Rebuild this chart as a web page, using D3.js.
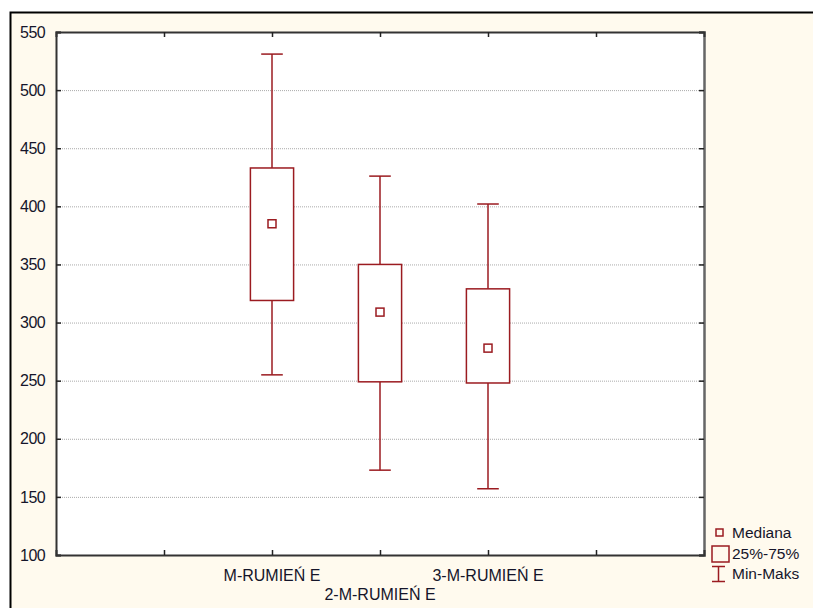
<!DOCTYPE html>
<html>
<head>
<meta charset="utf-8">
<script src="https://cdn.jsdelivr.net/npm/d3@7"></script>
<style>
  body { margin: 0; background: #fff; }
  text { font-family: "Liberation Sans", Arial, sans-serif; }
</style>
</head>
<body>
<svg id="chart" width="813" height="608"></svg>
<script>
// box data
const categories = ["M-RUMIEŃ E", "2-M-RUMIEŃ E", "3-M-RUMIEŃ E"];
const mins = [255, 173, 157];
const q1s = [319, 249, 248];
const medians = [385, 309, 278];
const q3s = [433, 350, 329];
const maxs = [531, 426, 402];
const yTicks = [100, 150, 200, 250, 300, 350, 400, 450, 500, 550];

const red = "#9b1b20";
const ink = "#15152a";
const svg = d3.select("#chart");

// cream panel with black top/left border
svg.append("rect").attr("x", 10).attr("y", 12).attr("width", 803).attr("height", 596)
    .attr("fill", "#fffaee");
svg.append("path").attr("d", "M10.5,608V12.5H813").attr("fill", "none")
    .attr("stroke", "#000").attr("stroke-width", 2);

const pLeft = 56, pTop = 32, pRight = 704, pBottom = 555;

const x = d3.scaleLinear().domain([0, 6]).range([pLeft, pRight]);
const y = d3.scaleLinear().domain([100, 550]).range([pBottom, pTop]);

svg.append("rect").attr("x", pLeft).attr("y", pTop).attr("width", pRight - pLeft).attr("height", pBottom - pTop)
    .attr("fill", "#fff");

// grid lines
svg.append("g").selectAll("line").data(yTicks.slice(1, -1)).enter().append("line")
    .attr("x1", pLeft).attr("x2", pRight)
    .attr("y1", d => y(d) + 0.5).attr("y2", d => y(d) + 0.5)
    .attr("stroke", "#aaa").attr("stroke-dasharray", "1,1");

// axes
const yAxisL = d3.axisLeft(y).tickValues(yTicks).tickSize(-5).tickPadding(11);
const gl = svg.append("g").attr("transform", `translate(${pLeft},0)`).call(yAxisL);
const yAxisR = d3.axisRight(y).tickValues(yTicks).tickSize(-5).tickFormat("");
const gr = svg.append("g").attr("transform", `translate(${pRight},0)`).call(yAxisR);
const xAxisB = d3.axisBottom(x).tickValues([1, 2, 3, 4, 5]).tickSize(-5).tickFormat("");
const gb = svg.append("g").attr("transform", `translate(0,${pBottom})`).call(xAxisB);
const xAxisT = d3.axisTop(x).tickValues([1, 2, 3, 4, 5]).tickSize(-5).tickFormat("");
const gt = svg.append("g").attr("transform", `translate(0,${pTop})`).call(xAxisT);

[gl, gr, gb, gt].forEach(g => {
  g.select(".domain").attr("stroke", "#333").attr("stroke-width", 2);
  g.selectAll(".tick line").attr("stroke", "#222").attr("stroke-width", 1.5);
});
gr.select(".domain").attr("stroke", "#666").attr("stroke-width", 2.5);
gl.selectAll(".tick text").attr("font-size", 16).attr("letter-spacing", -0.6).attr("fill", ink)
    .attr("font-family", "Liberation Sans, Arial, sans-serif");

// category labels, staggered
svg.append("g").selectAll("text").data(categories).enter().append("text")
    .attr("x", (d, i) => x(i + 2))
    .attr("y", (d, i) => i % 2 ? 600 : 581)
    .attr("text-anchor", "middle").attr("font-size", 16).attr("fill", ink)
    .text(d => d);

// boxes
const boxes = svg.append("g").selectAll("g").data(categories).enter().append("g");
const bw = 0.2, cw = 0.1;
boxes.append("line")
    .attr("x1", (d, i) => x(i + 2)).attr("x2", (d, i) => x(i + 2))
    .attr("y1", (d, i) => y(maxs[i])).attr("y2", (d, i) => y(q3s[i]))
    .attr("stroke", red).attr("stroke-width", 1.5);
boxes.append("line")
    .attr("x1", (d, i) => x(i + 2)).attr("x2", (d, i) => x(i + 2))
    .attr("y1", (d, i) => y(q1s[i])).attr("y2", (d, i) => y(mins[i]))
    .attr("stroke", red).attr("stroke-width", 1.5);
boxes.append("line")
    .attr("x1", (d, i) => x(i + 2 - cw)).attr("x2", (d, i) => x(i + 2 + cw))
    .attr("y1", (d, i) => y(maxs[i])).attr("y2", (d, i) => y(maxs[i]))
    .attr("stroke", red).attr("stroke-width", 1.5);
boxes.append("line")
    .attr("x1", (d, i) => x(i + 2 - cw)).attr("x2", (d, i) => x(i + 2 + cw))
    .attr("y1", (d, i) => y(mins[i])).attr("y2", (d, i) => y(mins[i]))
    .attr("stroke", red).attr("stroke-width", 1.5);
boxes.append("rect")
    .attr("x", (d, i) => x(i + 2 - bw)).attr("width", x(2 * bw) - x(0))
    .attr("y", (d, i) => y(q3s[i])).attr("height", (d, i) => y(q1s[i]) - y(q3s[i]))
    .attr("fill", "#fff").attr("stroke", red).attr("stroke-width", 1.5);
boxes.append("rect")
    .attr("x", (d, i) => x(i + 2) - 4).attr("width", 8)
    .attr("y", (d, i) => y(medians[i]) - 4).attr("height", 8)
    .attr("fill", "#fff").attr("stroke", red).attr("stroke-width", 1.5);

// legend
const lg = svg.append("g");
lg.append("rect").attr("x", 716).attr("y", 529).attr("width", 7).attr("height", 7)
    .attr("fill", "none").attr("stroke", red).attr("stroke-width", 1.5);
lg.append("rect").attr("x", 712).attr("y", 546).attr("width", 17).attr("height", 16)
    .attr("fill", "none").attr("stroke", red).attr("stroke-width", 1.5);
lg.append("path").attr("d", "M712,566.5H725M718.5,566.5V581.5M712,581.5H725")
    .attr("fill", "none").attr("stroke", red).attr("stroke-width", 1.5);
lg.selectAll("text").data(["Mediana", "25%-75%", "Min-Maks"]).enter().append("text")
    .attr("x", 732)
    .attr("y", (d, i) => [538, 559, 579][i])
    .attr("font-size", 15.5).attr("fill", ink)
    .text(d => d);
</script>
</body>
</html>
